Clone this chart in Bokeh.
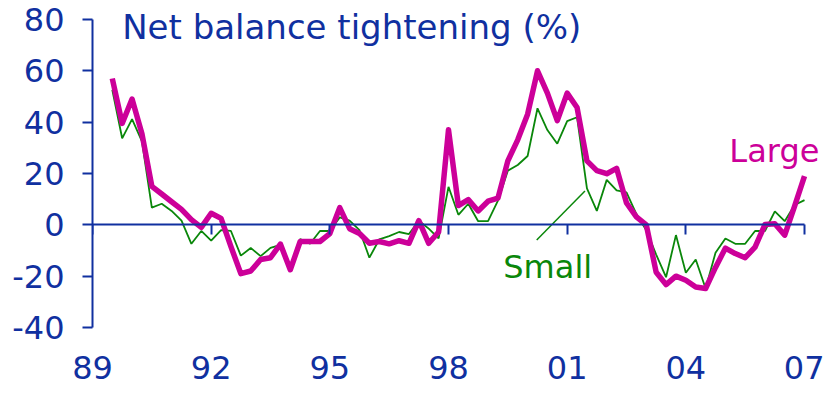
from bokeh.plotting import figure
from bokeh.models import Range1d, FixedTicker, Label, LinearAxis
from bokeh.embed import file_html
from bokeh.resources import INLINE

# ---- data (quarterly, 1989 Q3 .. 2007 Q1) ----
start_year = 1989.5
large = [57, 39.5, 49, 35.5, 15, 12, 9, 6, 2, -1,
         4.5, 2.5, -8.5, -19, -18, -13.5, -12.8, -7.5, -17.5, -6.5,
         -6.5, -6.5, -3.4, 6.7, -1.5, -3.4, -7.2, -6.5, -7.4, -6.2,
         -7.2, 1.6, -7.2, -2.8, 37, 7.5, 9.8, 5.4, 9.2, 10.4,
         24.9, 33.1, 43.1, 60, 51.3, 40.6, 51.3, 45.7, 24.9, 21.1,
         19.9, 22, 8.5, 3.1, 0, -18.5, -23.3, -20, -21.6, -24.2,
         -24.8, -16.6, -9.1, -11.2, -12.8, -8.7, 0.1, 0.4, -4, 7.3,
         19]
small = [52.6, 33.7, 41.2, 32.5, 6.7, 8.2, 5.4, 1.6, -7.4, -2.4,
         -6.2, -2.1, -2.4, -12, -9, -12.2, -9, -7.8, -18, -5.5,
         -7.4, -2.4, -2.4, 2.9, 1.6, -2.1, -12.8, -5.7, -4.4, -2.8,
         -3.6, 1.6, -1.5, -5.3, 14.8, 3.9, 8.2, 1.4, 1.4, 9.4,
         21.1, 23.3, 26.8, 45.4, 36.9, 31.6, 40.4, 41.9, 14.2, 5.4,
         17.5, 13.4, 12.6, 4.2, -2.1, -11.6, -20.4, -4, -18.7, -13.5,
         -24.8, -10.9, -5.3, -7.4, -7.4, -2.4, -2.4, 5.2, 1.4, 7.7,
         9.6]
x_ticks = [1989, 1992, 1995, 1998, 2001, 2004, 2007]
x_tick_labels = ["89", "92", "95", "98", "01", "04", "07"]
y_ticks = [-40, -20, 0, 20, 40, 60, 80]
y_tick_labels = ["-40", "-20", "0", "20", "40", "60", "80"]
title_text = "Net balance tightening (%)"
large_label = "Large"
small_label = "Small"
small_leader_x = [2000.23, 2001.45]
small_leader_y = [-5.9, 13.2]

quarters = [start_year + 0.25 * i for i in range(len(large))]

BLUE = "#1030a0"
MAGENTA = "#cc0099"
GREEN = "#0a870a"
FONT = "DejaVu Sans"
FS = "32px"

p = figure(width=824, height=385, output_backend="svg", toolbar_location=None,
           x_range=Range1d(1989, 2007.455), y_range=Range1d(-40, 86.6),
           min_border_left=92, min_border_right=2, min_border_top=2,
           min_border_bottom=58, background_fill_color="white",
           border_fill_color="white")
p.outline_line_color = None
p.xgrid.visible = False
p.ygrid.visible = False

p.line(quarters, small, line_color=GREEN, line_width=1.8)
p.line(quarters, large, line_color=MAGENTA, line_width=5.5, line_join="round")
p.line(small_leader_x, small_leader_y, line_color=GREEN, line_width=1.5)

# y axis
ya = p.yaxis[0]
ya.bounds = (-40, 80)
ya.ticker = FixedTicker(ticks=y_ticks)
ya.major_label_overrides = {t: s for t, s in zip(y_ticks, y_tick_labels)}
ya.axis_line_color = BLUE
ya.axis_line_width = 2
ya.major_tick_line_color = BLUE
ya.major_tick_line_width = 2
ya.major_tick_out = 10
ya.major_tick_in = 0
ya.minor_tick_line_color = None
ya.major_label_text_color = BLUE
ya.major_label_text_font = FONT
ya.major_label_text_font_size = FS
ya.major_label_standoff = 18

# x axis line at y = 0 with ticks (no labels)
xa = p.xaxis[0]
xa.fixed_location = 0
xa.bounds = (1989, 2007)
xa.ticker = FixedTicker(ticks=x_ticks)
xa.major_label_overrides = {t: "" for t in x_ticks}
xa.axis_line_color = BLUE
xa.axis_line_width = 2
xa.major_tick_line_color = BLUE
xa.major_tick_line_width = 2
xa.major_tick_out = 10
xa.major_tick_in = 0
xa.minor_tick_line_color = None

# x labels at the bottom
xl = LinearAxis(ticker=FixedTicker(ticks=x_ticks),
                major_label_overrides={t: s for t, s in zip(x_ticks, x_tick_labels)})
xl.axis_line_color = None
xl.major_tick_line_color = None
xl.minor_tick_line_color = None
xl.major_tick_out = 0
xl.major_tick_in = 0
xl.major_label_standoff = 28
xl.major_label_text_color = BLUE
xl.major_label_text_font = FONT
xl.major_label_text_font_size = FS
p.add_layout(xl, "below")

p.add_layout(Label(x=1989.75, y=77.0, text=title_text, text_color=BLUE,
                   text_font=FONT, text_font_size="34px", text_baseline="alphabetic"))
p.add_layout(Label(x=2005.1, y=28.8, text=large_label, text_color=MAGENTA,
                   text_font=FONT, text_font_size=FS, text_baseline="alphabetic"))
p.add_layout(Label(x=1999.385, y=-16.5, text=small_label, text_color=GREEN,
                   text_font=FONT, text_font_size=FS, text_baseline="alphabetic"))

open("out.html", "w").write(file_html(p, INLINE))
